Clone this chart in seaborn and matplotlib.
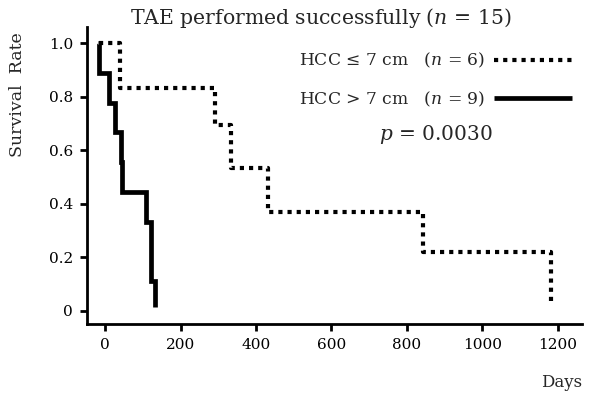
import matplotlib
matplotlib.use("Agg")
import matplotlib.pyplot as plt
from matplotlib.lines import Line2D
import seaborn as sns
import pandas as pd

# Data
small_days = [-15, 40, 291, 334, 432, 842, 1181]
small_surv = [1.0, 0.833, 0.694, 0.535, 0.37, 0.22, 0.03]
large_days = [-20, -16, 11, 26, 42, 46, 109, 122, 132]
large_surv = [1.0, 0.889, 0.778, 0.667, 0.556, 0.444, 0.333, 0.111, 0.015]
group_labels = ["HCC \u2264 7 cm   ($n$ = 6)", "HCC > 7 cm   ($n$ = 9)"]
x_ticks = [0, 200, 400, 600, 800, 1000, 1200]
y_ticks = [0, 0.2, 0.4, 0.6, 0.8, 1.0]
y_ticklabels = ["0", "0.2", "0.4", "0.6", "0.8", "1.0"]

sns.set_theme(style="ticks")
plt.rcParams["font.family"] = ["DejaVu Serif"]
plt.rcParams["mathtext.fontset"] = "dejavuserif"

fig = plt.figure(figsize=(6.0, 4.03), dpi=100)
ax = fig.add_axes([0.145, 0.196, 0.825, 0.737])

df_small = pd.DataFrame({"Days": small_days, "Survival": small_surv})
df_large = pd.DataFrame({"Days": large_days, "Survival": large_surv})

dot_style = (0, (1, 1.2))
sns.lineplot(data=df_small, x="Days", y="Survival", ax=ax, estimator=None, sort=False,
             drawstyle="steps-post", color="black", linewidth=3.0,
             linestyle=dot_style, dash_capstyle="butt")
sns.lineplot(data=df_large, x="Days", y="Survival", ax=ax, estimator=None, sort=False,
             drawstyle="steps-post", color="black", linewidth=3.4,
             solid_capstyle="butt", solid_joinstyle="miter")

ax.set_xlim(-48, 1264)
ax.set_ylim(-0.049, 1.06)
ax.set_xticks(x_ticks)
ax.set_xticklabels([str(t) for t in x_ticks], fontsize=11)
ax.set_yticks(y_ticks)
ax.set_yticklabels(y_ticklabels, fontsize=11)
ax.set_xlabel("")
ax.set_ylabel("")
for side in ["top", "right"]:
    ax.spines[side].set_visible(False)
for side in ["left", "bottom"]:
    ax.spines[side].set_linewidth(2.0)
    ax.spines[side].set_color("black")
ax.tick_params(axis="both", direction="out", length=5, width=2.0, colors="black",
               labelcolor="black", pad=5)

fig.text(0.535, 0.955, "TAE performed successfully ($n$ = 15)", ha="center", va="center",
         fontsize=14.7)
fig.text(0.03, 0.765, "Survival  Rate", rotation=90, ha="center", va="center", fontsize=12.5)
fig.text(0.97, 0.05, "Days", ha="right", va="center", fontsize=12)

handles = [Line2D([], [], color="black", linewidth=3.0, linestyle=dot_style,
                  dash_capstyle="butt"),
           Line2D([], [], color="black", linewidth=3.4, solid_capstyle="butt")]
ax.legend(handles, group_labels, loc="upper left",
          bbox_to_anchor=(299 / 600, 1 - 51 / 403), bbox_transform=fig.transFigure,
          frameon=False, markerfirst=False, handlelength=4.55, fontsize=12.3,
          labelspacing=1.12, handletextpad=0.55, borderpad=0, borderaxespad=0)

fig.text(436 / 600, 1 - 135 / 403, "$p$ = 0.0030", ha="center", va="center",
         fontsize=14.5)

fig.savefig("out.png", dpi=100)
